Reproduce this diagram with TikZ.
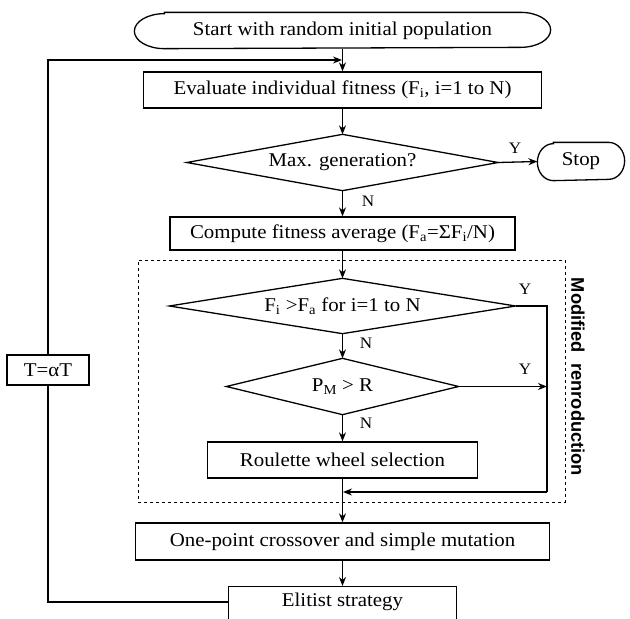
\documentclass[tikz,border=0pt]{standalone}
\usepackage{fontspec}
\setmainfont{Liberation Serif}[FakeStretch=1.07]
\newfontfamily\labelsans{Liberation Sans}
\usetikzlibrary{arrows.meta}
\begin{document}
\begin{tikzpicture}[x=1pt,y=-1pt,
  line width=1.3pt,
  every node/.style={font=\fontsize{19.5}{21}\selectfont, inner sep=0pt},
  procbox/.style={draw, rectangle},
  yn/.style={font=\fontsize{16}{18}\selectfont},
  arr/.style={-{Stealth[length=9pt,width=7pt]}},
]
\useasboundingbox (0,0) rectangle (630,619);

% terminals
\node[minimum width=415pt, minimum height=35pt] (start) at (342.5,30.5) {Start with random initial population};
\draw ([xshift=30pt]start.north west) -- ([xshift=-30pt]start.north east)
  arc[start angle=90,end angle=-90,x radius=30pt,y radius=17.5pt]
  -- ([xshift=30pt]start.south west)
  arc[start angle=270,end angle=90,x radius=30pt,y radius=17.5pt] -- cycle;

\node[minimum width=86pt, minimum height=37pt] (stop) at (581,161.5) {Stop};
\draw ([xshift=16pt]stop.north west) -- ([xshift=-16pt]stop.north east)
  arc[start angle=90,end angle=-90,x radius=16pt,y radius=18.5pt]
  -- ([xshift=16pt]stop.south west)
  arc[start angle=270,end angle=90,x radius=16pt,y radius=18.5pt] -- cycle;

% process boxes
\node[procbox, minimum width=398pt, minimum height=36pt] (eval) at (342.5,90) {Evaluate individual fitness (F\textsubscript{i}, i=1 to N)};
\node[procbox, minimum width=345pt, minimum height=33pt] (comp) at (342.5,233.5) {Compute fitness average (F\textsubscript{a}=ΣF\textsubscript{i}/N)};
\node[procbox, minimum width=270pt, minimum height=36pt] (roul) at (342.5,460) {Roulette wheel selection};
\node[procbox, minimum width=414pt, minimum height=37pt] (cross) at (342.5,541.5) {One-point crossover and simple mutation};
\node[procbox, anchor=north, minimum width=228pt, inner ysep=6pt, text depth=30pt] (elit) at (342.5,586) {Elitist strategy};

% decisions (diamonds drawn through the anchors of their boxes)
\node[minimum width=310pt, minimum height=55pt] (maxg) at (342.5,162.5) {Max. generation?};
\draw (maxg.west) -- (maxg.north) -- (maxg.east) -- (maxg.south) -- cycle;
\node[minimum width=345pt, minimum height=54pt] (fi) at (342.5,306) {F\textsubscript{i} >F\textsubscript{a} for i=1 to N};
\draw (fi.west) -- (fi.north) -- (fi.east) -- (fi.south) -- cycle;
\node[minimum width=231pt, minimum height=55pt] (pm) at (342.5,386.5) {P\textsubscript{M} > R};
\draw (pm.west) -- (pm.north) -- (pm.east) -- (pm.south) -- cycle;

% modified reproduction frame
\node[draw, dashed, line width=0.9pt, minimum width=427pt, minimum height=242pt] (modbox) at (351.5,381) {};
\node[rotate=-90, font=\labelsans\bfseries\fontsize{18.3}{20}\selectfont] (modlbl) at (578,377) {Modified\ \ renroduction};

% temperature box
\node[procbox, minimum width=82pt, minimum height=30pt] (temp) at (48,370) {T=αT};

% helper coordinates
\coordinate (loopTop) at (48,60);
\coordinate (loopBot) at (48,602);
\coordinate (elitL) at (228,602);
\coordinate (evalIn) at (342,60);
\coordinate (rightTop) at (547,306);
\coordinate (rightBot) at (547,492);
\coordinate (merge) at (343,492);
\coordinate (pmHit) at (547,386.5);

% labels
\node[yn] (lN1) at (368,201) {N};
\node[yn] (lY1) at (515,148) {Y};
\node[yn] (lY2) at (525,289) {Y};
\node[yn] (lN2) at (366,343) {N};
\node[yn] (lY3) at (525,369) {Y};
\node[yn] (lN3) at (366,423) {N};

% connectors
\draw[arr] (start.south) -- (eval.north);
\draw[arr] (eval.south) -- (maxg.north);
\draw[arr] (maxg.south) -- (comp.north);
\draw[arr] (maxg.east) -- (stop.west);
\draw[arr] (comp.south) -- (fi.north);
\draw[arr] (fi.south) -- (pm.north);
\draw[arr] (pm.south) -- (roul.north);
\draw (fi.east) -- (rightTop) -- (rightBot);
\draw[arr] (rightBot) -- (merge);
\draw[arr] (pm.east) -- (pmHit);
\draw[arr] (roul.south) -- (cross.north);
\draw[arr] (cross.south) -- (elit.north);
\draw (elitL) -- (loopBot) -- (temp.south);
\draw[arr] (temp.north) -- (loopTop) -- (evalIn);
\end{tikzpicture}
\end{document}
